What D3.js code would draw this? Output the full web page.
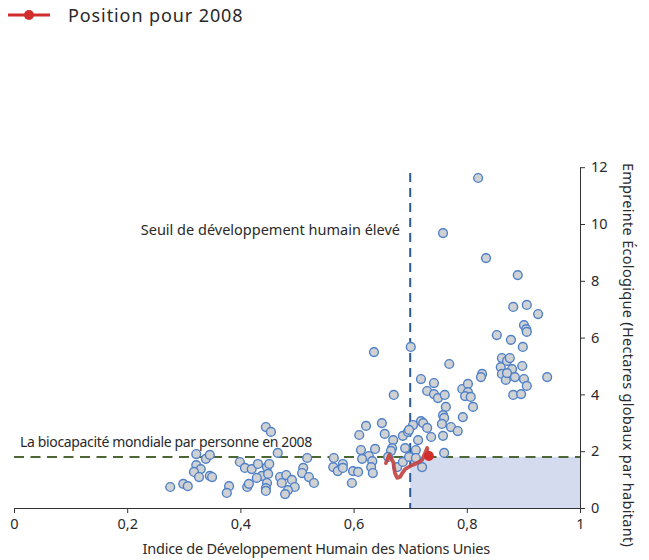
<!DOCTYPE html>
<html lang="fr">
<head>
<meta charset="utf-8">
<script src="https://cdn.jsdelivr.net/npm/d3@7"></script>
<style>
  html, body { margin: 0; padding: 0; background: #fff; }
  svg { display: block; }
  text { font-family: "Noto Sans", "DejaVu Sans", sans-serif; fill: #2a2a2a; }
</style>
</head>
<body>
<svg id="chart" width="649" height="560"></svg>
<script>
// Indice de développement humain (IDH) de chaque pays
const hdi = [
  0.276, 0.299, 0.307, 0.322, 0.339, 0.346, 0.322, 0.330, 0.318, 0.327,
  0.346, 0.350, 0.380, 0.376, 0.399, 0.408, 0.420, 0.431, 0.447, 0.451,
  0.438, 0.429, 0.449, 0.412, 0.415, 0.447, 0.445, 0.445, 0.445, 0.454,
  0.466, 0.470, 0.481, 0.473, 0.491, 0.496, 0.484, 0.479, 0.511, 0.509,
  0.518, 0.521, 0.530, 0.565, 0.564, 0.572, 0.581, 0.581, 0.599, 0.608,
  0.597, 0.610, 0.622, 0.613, 0.638, 0.627, 0.615, 0.633, 0.631, 0.634,
  0.636, 0.650, 0.655, 0.670, 0.671, 0.687, 0.696, 0.668, 0.666, 0.691,
  0.661, 0.677, 0.687, 0.698, 0.701, 0.769, 0.719, 0.742, 0.730, 0.742,
  0.749, 0.761, 0.792, 0.802, 0.802, 0.797, 0.807, 0.811, 0.827, 0.825,
  0.763, 0.758, 0.760, 0.793, 0.756, 0.772, 0.784, 0.719, 0.723, 0.705,
  0.698, 0.730, 0.737, 0.714, 0.758, 0.710, 0.760, 0.721, 0.710, 0.862,
  0.860, 0.862, 0.869, 0.853, 0.878, 0.899, 0.901, 0.905, 0.906, 0.871,
  0.876, 0.898, 0.880, 0.871, 0.885, 0.901, 0.906, 0.942, 0.882, 0.896,
  0.834, 0.890, 0.882, 0.906, 0.926, 0.820, 0.758
];

// Empreinte écologique par habitant (hectares globaux), même ordre
const footprint = [
  0.74, 0.85, 0.77, 1.90, 1.73, 1.87, 1.51, 1.37, 1.27, 1.09,
  1.13, 1.09, 0.77, 0.53, 1.62, 1.41, 1.37, 1.55, 1.44, 1.55,
  1.13, 1.06, 1.20, 0.74, 0.85, 0.88, 0.70, 0.60, 2.85, 2.68,
  1.94, 1.09, 1.16, 0.88, 0.99, 0.74, 0.63, 0.49, 1.41, 1.23,
  1.76, 1.09, 0.88, 1.76, 1.44, 1.30, 1.55, 1.41, 1.30, 1.27,
  0.88, 2.57, 2.89, 2.04, 2.08, 1.83, 1.73, 1.65, 1.44, 1.23,
  5.49, 2.99, 2.61, 2.39, 3.98, 2.54, 2.68, 2.11, 2.01, 2.11,
  1.80, 1.44, 1.62, 1.80, 5.67, 5.07, 4.54, 4.40, 4.12, 4.01,
  3.87, 3.98, 4.19, 4.37, 4.08, 3.94, 3.91, 3.56, 4.72, 4.61,
  3.56, 3.27, 3.17, 3.20, 2.96, 2.85, 2.71, 3.06, 2.99, 2.92,
  2.75, 2.82, 2.50, 2.39, 2.54, 2.04, 1.94, 1.44, 1.76, 5.28,
  4.96, 4.72, 4.51, 6.09, 5.92, 5.67, 6.44, 6.30, 6.20, 5.18,
  5.28, 5.00, 4.89, 4.75, 4.61, 4.54, 4.30, 4.61, 3.98, 4.01,
  8.80, 8.20, 7.08, 7.15, 6.83, 11.62, 9.68
];

// Trajectoire mondiale jusqu'à la position de 2008
const pathHdi = [0.657, 0.663, 0.670, 0.673, 0.677, 0.682, 0.686, 0.691, 0.703, 0.712, 0.721, 0.730, 0.730, 0.733];
const pathFootprint = [1.58, 1.87, 1.62, 1.23, 1.06, 1.09, 1.23, 1.37, 1.51, 1.58, 1.69, 2.11, 1.87, 1.83];

// Seuils de référence
const hdiThreshold = [0.7];
const biocapacity = [1.8];

// Graduations des axes
const xTicks = [0, 0.2, 0.4, 0.6, 0.8, 1];
const xTickLabels = ["0", "0,2", "0,4", "0,6", "0,8", "1"];
const yTicks = [0, 2, 4, 6, 8, 10, 12];
const yTickLabels = ["0", "2", "4", "6", "8", "10", "12"];

const svg = d3.select("#chart");

const x = d3.scaleLinear().domain([0, 1]).range([14, 580]);
const y = d3.scaleLinear().domain([0, 12]).range([508, 167.2]);

// Zone : développement humain élevé dans les limites de la biocapacité
svg.append("rect")
  .attr("x", x(hdiThreshold[0]))
  .attr("y", y(biocapacity[0]))
  .attr("width", x(1) - x(hdiThreshold[0]))
  .attr("height", y(0) - y(biocapacity[0]))
  .attr("fill", "#d5dbef");

// Axe horizontal (graduations vers le bas)
const xAxis = d3.axisBottom(x)
  .tickValues(xTicks)
  .tickFormat((d, i) => xTickLabels[i])
  .tickSizeInner(5)
  .tickSizeOuter(0)
  .tickPadding(6);
const gx = svg.append("g").attr("transform", `translate(0,${y(0)})`).call(xAxis);
gx.select(".domain").attr("stroke", "#333");
gx.selectAll(".tick line").attr("stroke", "#333");
gx.selectAll(".tick text")
  .attr("font-size", 14.5)
  .attr("font-family", "'Noto Sans', sans-serif")
  .attr("fill", "#333");

// Axe vertical à droite (graduations vers la droite)
const yAxis = d3.axisRight(y)
  .tickValues(yTicks)
  .tickFormat((d, i) => yTickLabels[i])
  .tickSizeInner(5)
  .tickSizeOuter(0)
  .tickPadding(6);
const gy = svg.append("g").attr("transform", `translate(${x(1)},0)`).call(yAxis);
gy.select(".domain").attr("stroke", "#333");
gy.selectAll(".tick line").attr("stroke", "#333");
gy.selectAll(".tick text")
  .attr("font-size", 14.5)
  .attr("font-family", "'Noto Sans', sans-serif")
  .attr("fill", "#333");

// Ligne de la biocapacité mondiale
svg.append("line")
  .attr("x1", x(0)).attr("x2", x(1))
  .attr("y1", y(biocapacity[0])).attr("y2", y(biocapacity[0]))
  .attr("stroke", "#4c6634")
  .attr("stroke-width", 2)
  .attr("stroke-dasharray", "10,6.5");

// Seuil de développement humain élevé
svg.append("line")
  .attr("x1", x(hdiThreshold[0])).attr("x2", x(hdiThreshold[0]))
  .attr("y1", y(11.8)).attr("y2", y(0))
  .attr("stroke", "#2c5b98")
  .attr("stroke-width", 2)
  .attr("stroke-dasharray", "9,6");

// Pays
svg.append("g")
  .selectAll("circle")
  .data(hdi.map((h, i) => ({ h, f: footprint[i] })))
  .join("circle")
  .attr("cx", d => x(d.h))
  .attr("cy", d => y(d.f))
  .attr("r", 4.4)
  .attr("fill", "#d0d1d3")
  .attr("stroke", "#4f81c9")
  .attr("stroke-width", 1.4);

// Trajectoire mondiale
const pathData = pathHdi.map((h, i) => [x(h), y(pathFootprint[i])]);
svg.append("path")
  .attr("d", d3.line().curve(d3.curveLinear)(pathData))
  .attr("fill", "none")
  .attr("stroke", "#c2413f")
  .attr("stroke-width", 3.8)
  .attr("stroke-linejoin", "round")
  .attr("stroke-linecap", "round")
  .attr("opacity", 0.9);
svg.append("circle")
  .attr("cx", x(pathHdi[pathHdi.length - 1]))
  .attr("cy", y(pathFootprint[pathFootprint.length - 1]))
  .attr("r", 5)
  .attr("fill", "#d12d2d");

// Annotations
svg.append("text")
  .attr("x", 400).attr("y", 235)
  .attr("text-anchor", "end")
  .attr("font-size", 14.5)
  .text("Seuil de développement humain élevé");

svg.append("text")
  .attr("x", 20).attr("y", 447)
  .attr("font-size", 14)
  .attr("letter-spacing", -0.35)
  .text("La biocapacité mondiale par personne en 2008");

// Titres des axes
svg.append("text")
  .attr("x", x(0.534)).attr("y", 554)
  .attr("text-anchor", "middle")
  .attr("font-size", 14.5)
  .attr("letter-spacing", -0.25)
  .text("Indice de Développement Humain des Nations Unies");

svg.append("text")
  .attr("transform", "translate(623,355) rotate(90)")
  .attr("text-anchor", "middle")
  .attr("font-size", 14.5)
  .attr("letter-spacing", 0.3)
  .text("Empreinte Écologique (Hectares globaux par habitant)");

// Légende
const legend = svg.append("g").attr("transform", "translate(8,15)");
legend.append("line")
  .attr("x1", 0).attr("x2", 42)
  .attr("y1", 0).attr("y2", 0)
  .attr("stroke", "#d12d2d")
  .attr("stroke-width", 3);
legend.append("circle")
  .attr("cx", 21).attr("cy", 0).attr("r", 5)
  .attr("fill", "#d12d2d");
legend.append("text")
  .attr("x", 60).attr("y", 6.5)
  .attr("font-size", 18)
  .attr("letter-spacing", 0.9)
  .text("Position pour 2008");
</script>
</body>
</html>
